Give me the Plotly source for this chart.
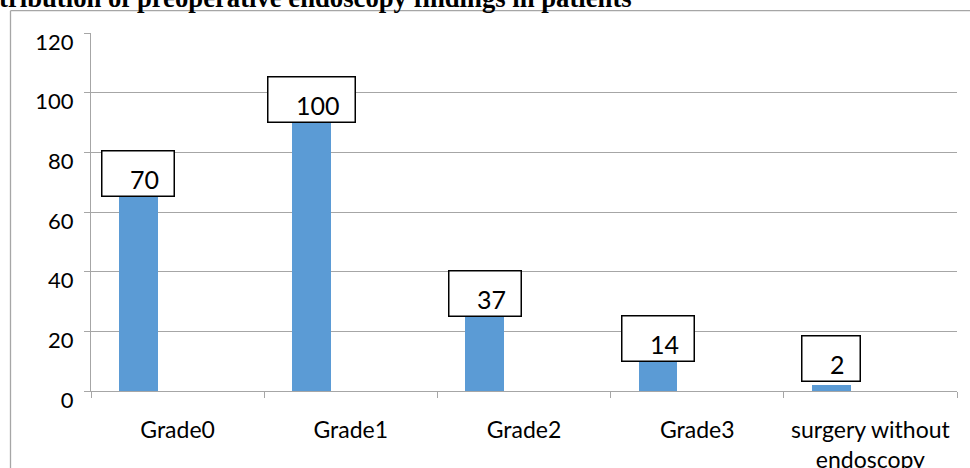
import plotly.graph_objects as go

# ---- data ----
categories = ["Grade0", "Grade1", "Grade2", "Grade3", "surgery without<br>endoscopy"]
values = [70, 100, 37, 14, 2]
title_text = "tribution of preoperative endoscopy findings in patients"
y_ticks = [0, 20, 40, 60, 80, 100, 120]

# ---- style ----
BAR_COLOR = "#5b9bd5"
GRID = "#a6a6a6"
FONT = "Lato"
BAR_WIDTH = 0.224
BAR_OFFSET = -0.338
LABEL_SHIFT_PX = [-15, -30, -36, -13, 3]  # label box nudges (pixels)

W, H = 970, 468
ML, MR, MT, MB = 91, 13, 33, 77
PW, PH = W - ML - MR, H - MT - MB

def px_x(p):
    return (p - ML) / PW

def px_y(p):
    return 1 - (p - MT) / PH

fig = go.Figure()
fig.add_trace(go.Bar(
    x=categories, y=values,
    width=BAR_WIDTH, offset=BAR_OFFSET,
    marker=dict(color=BAR_COLOR, line=dict(width=0)),
    showlegend=False, hoverinfo="x+y",
))

annotations = []
for i, (v, s) in enumerate(zip(values, LABEL_SHIFT_PX)):
    annotations.append(dict(
        x=i + BAR_OFFSET + BAR_WIDTH / 2, y=v, xref="x", yref="y",
        text="&nbsp;&nbsp;&nbsp;&nbsp;" + str(v) + "&nbsp;&nbsp;",
        showarrow=False, yanchor="bottom", xanchor="center", yshift=s,
        font=dict(family=FONT, size=25, color="black"),
        bgcolor="white", bordercolor="black", borderwidth=1.5, borderpad=2,
        height=40, valign="bottom",
    ))

annotations.append(dict(
    x=px_x(-3), y=px_y(15), xref="paper", yref="paper",
    text="<b>" + title_text + "</b>", showarrow=False,
    xanchor="left", yanchor="bottom",
    font=dict(family="Liberation Serif", size=26.7, color="black"),
))

shapes = [
    dict(type="line", xref="paper", yref="paper",
         x0=px_x(10.5), x1=px_x(975), y0=px_y(10.7), y1=px_y(10.7),
         line=dict(color=GRID, width=1.3)),
    dict(type="line", xref="paper", yref="paper",
         x0=px_x(10.5), x1=px_x(10.5), y0=px_y(10.7), y1=px_y(475),
         line=dict(color=GRID, width=1.3)),
]

fig.update_layout(
    width=W, height=H,
    margin=dict(l=ML, r=MR, t=MT, b=MB, pad=0, autoexpand=False),
    plot_bgcolor="white", paper_bgcolor="white",
    annotations=annotations, shapes=shapes,
    font=dict(family=FONT, color="black"),
    bargap=0,
)
fig.update_xaxes(
    type="category", range=[-0.5, 4.5], automargin=False,
    tickson="boundaries", ticks="outside", ticklen=6, tickcolor=GRID,
    showline=True, linecolor=GRID, linewidth=1.3,
    showgrid=False, tickfont=dict(family=FONT, size=23, color="black"),
    ticklabelstandoff=18,
)
fig.update_yaxes(
    range=[0, 120], tickvals=y_ticks, automargin=False,
    ticks="outside", ticklen=6, tickcolor=GRID,
    showline=True, linecolor=GRID, linewidth=1.3,
    showgrid=True, gridcolor=GRID, gridwidth=1.3,
    zeroline=False,
    tickfont=dict(family=FONT, size=22, color="black"),
    ticklabelstandoff=6, ticklabelshift=9,
)

fig.write_html(
    "out.html",
    config={"displayModeBar": False},
    post_script="document.body.style.margin='0';document.body.style.overflow='hidden';",
)
